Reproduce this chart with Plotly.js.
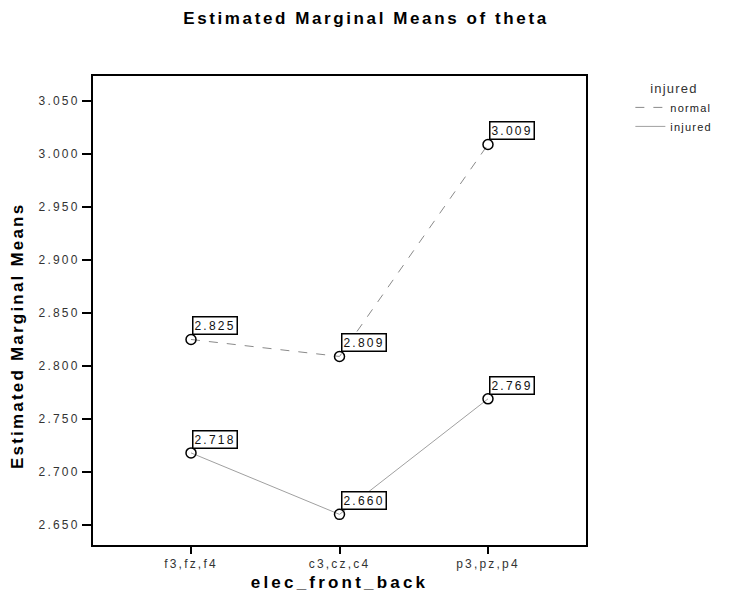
<!DOCTYPE html>
<html>
<head>
<meta charset="utf-8">
<script src="https://cdn.plot.ly/plotly-3.0.1.min.js"></script>
<style>
html,body{margin:0;padding:0;background:#fff;}
#chart{width:733px;height:603px;}
svg text{letter-spacing:2.2px;}
svg .gtitle{letter-spacing:2.6px;}
svg .xtitle{letter-spacing:3.2px;}
svg .legendtext, svg .legendtitletext{letter-spacing:1.2px;}
</style>
</head>
<body>
<div id="chart"></div>
<script>
const categories = ["f3,fz,f4", "c3,cz,c4", "p3,pz,p4"];
const normalMeans = [2.825, 2.809, 3.009];
const injuredMeans = [2.718, 2.660, 2.769];
const yTickVals = [2.650, 2.700, 2.750, 2.800, 2.850, 2.900, 2.950, 3.000, 3.050];

const xIdx = categories.map((c, i) => i);
const FONT = "Liberation Sans, Arial, sans-serif";

const lineNormal = {color: "#8a8a8a", width: 1, dash: "dash"};
const lineInjured = {color: "#a0a0a0", width: 1};
const mk = {symbol: "circle-open", size: 10, color: "#000", line: {width: 1.5, color: "#000"}};

const traces = [
  {x: xIdx, y: normalMeans, name: "normal", type: "scatter", mode: "lines", line: lineNormal},
  {x: xIdx, y: injuredMeans, name: "injured", type: "scatter", mode: "lines", line: lineInjured},
  {x: xIdx, y: normalMeans, type: "scatter", mode: "markers", marker: mk, showlegend: false},
  {x: xIdx, y: injuredMeans, type: "scatter", mode: "markers", marker: mk, showlegend: false}
];

const annotations = [];
[normalMeans, injuredMeans].forEach(series => {
  series.forEach((v, i) => {
    annotations.push({
      x: xIdx[i], y: v, xref: "x", yref: "y", text: v.toFixed(3),
      showarrow: false, xanchor: "left", yanchor: "bottom", xshift: 1, yshift: 4,
      bgcolor: "#fff", bordercolor: "#000", borderwidth: 1.5, borderpad: 1,
      font: {family: FONT, size: 12, color: "#111"}
    });
  });
});
annotations.push({
  text: "<b>Estimated Marginal Means</b>", textangle: -90,
  xref: "paper", yref: "paper", x: (17 - 93) / 493, y: (545 - 336) / 469,
  xanchor: "center", yanchor: "middle", showarrow: false,
  font: {family: FONT, size: 17, color: "#000"}
});

const layout = {
  width: 733, height: 603,
  margin: {l: 93, r: 147, t: 76, b: 58},
  paper_bgcolor: "#fff", plot_bgcolor: "#fff",
  title: {
    text: "<b>Estimated Marginal Means of theta</b>",
    x: 366 / 733, xanchor: "center", y: 0.97, yanchor: "middle",
    font: {family: FONT, size: 17, color: "#000"}
  },
  xaxis: {
    range: [-0.66, 2.66], tickvals: xIdx, ticktext: categories,
    showgrid: false, zeroline: false,
    showline: true, linecolor: "#000", linewidth: 2, mirror: true,
    ticks: "outside", ticklen: 7, tickcolor: "#000", tickwidth: 2,
    tickfont: {family: FONT, size: 12, color: "#333"},
    title: {text: "<b>elec_front_back</b>", standoff: 6,
      font: {family: FONT, size: 17, color: "#000"}}
  },
  yaxis: {
    range: [2.6311, 3.0736], tickvals: yTickVals,
    ticktext: yTickVals.map(v => v.toFixed(3)),
    showgrid: false, zeroline: false,
    showline: true, linecolor: "#000", linewidth: 2, mirror: true,
    ticks: "outside", ticklen: 9, tickcolor: "#000", tickwidth: 1.5,
    tickfont: {family: FONT, size: 12, color: "#333"}
  },
  showlegend: true,
  legend: {
    x: 1.09, xanchor: "left", y: 1.0, yanchor: "top",
    bgcolor: "rgba(0,0,0,0)", borderwidth: 0,
    font: {family: FONT, size: 11, color: "#222"},
    title: {text: "injured", side: "top center", font: {family: FONT, size: 13, color: "#333"}},
    itemwidth: 30, tracegroupgap: 0
  },
  annotations: annotations
};

Plotly.newPlot("chart", traces, layout, {displayModeBar: false, staticPlot: true});
</script>
</body>
</html>
